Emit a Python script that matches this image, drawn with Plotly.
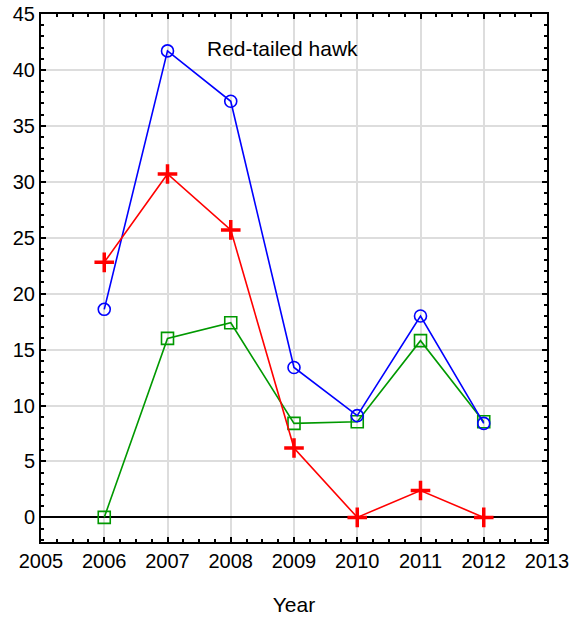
import plotly.graph_objects as go

years = [2006, 2007, 2008, 2009, 2010, 2011, 2012]
blue_vals = [18.6, 41.7, 37.2, 13.4, 9.1, 18.0, 8.4]
red_vals = [22.8, 30.7, 25.7, 6.2, 0.0, 2.4, 0.0]
green_vals = [0.0, 16.0, 17.4, 8.4, 8.55, 15.8, 8.55]
x_ticks = list(range(2005, 2014))
y_ticks = list(range(0, 50, 5))
title_text = "Red-tailed hawk"
x_title = "Year"

FONT = "Arial, Liberation Sans"

fig = go.Figure()
fig.add_trace(go.Scatter(x=years, y=green_vals, mode="lines+markers",
                         line=dict(color="#009900", width=1.6),
                         marker=dict(symbol="square-open", size=12, color="#009900",
                                     line=dict(width=1.6, color="#009900"))))
fig.add_trace(go.Scatter(x=years, y=blue_vals, mode="lines+markers",
                         line=dict(color="#0000ff", width=1.6),
                         marker=dict(symbol="circle-open", size=12, color="#0000ff",
                                     line=dict(width=1.6, color="#0000ff"))))
fig.add_trace(go.Scatter(x=years, y=red_vals, mode="lines+markers",
                         line=dict(color="#ff0000", width=1.6),
                         marker=dict(symbol="cross-thin", size=14, color="#ff0000",
                                     line=dict(width=3.5, color="#ff0000"))))

fig.add_annotation(x=0.478, y=41.9, xref="paper", yref="y", text=title_text,
                   showarrow=False, font=dict(size=21, color="black", family=FONT))

axis_common = dict(showline=True, linecolor="black", linewidth=2, mirror="allticks",
                   ticks="inside", ticklen=5, tickcolor="black", tickwidth=1.5,
                   showgrid=True, gridcolor="#dddddd", gridwidth=1.5, automargin=False,
                   ticklabeloverflow="allow",
                   tickfont=dict(size=20, color="black", family=FONT))

fig.update_xaxes(range=[2005, 2013], tickvals=x_ticks, **axis_common,
                 minor=dict(dtick=0.25, ticks="inside", ticklen=3, tickcolor="black", showgrid=False),
                 zeroline=False,
                 title=dict(text=x_title, font=dict(size=21, color="black", family=FONT), standoff=26))
fig.update_yaxes(range=[-2.2, 45], tickvals=y_ticks, **axis_common,
                 minor=dict(dtick=1, ticks="inside", ticklen=3, tickcolor="black", showgrid=False),
                 zeroline=True, zerolinecolor="black", zerolinewidth=2)

fig.update_layout(width=576, height=619, showlegend=False,
                  plot_bgcolor="white", paper_bgcolor="white",
                  margin=dict(l=41, r=29, t=14, b=77),
                  font=dict(family=FONT, color="black"))

fig.write_html("out.html", config={"displayModeBar": False},
               post_script="document.body.style.margin='0';")
